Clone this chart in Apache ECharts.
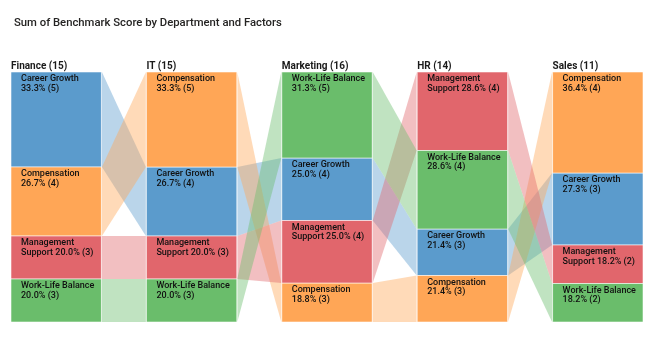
<!DOCTYPE html>
<html><head><meta charset="utf-8">
<script src="https://cdn.jsdelivr.net/npm/echarts/dist/echarts.min.js"></script>
<style>html,body{margin:0;padding:0;background:#fff}#c{width:650px;height:340px}</style>
</head><body><div id="c"></div>
<script>
// ---- data ----
const departments = ['Finance', 'IT', 'Marketing', 'HR', 'Sales'];
const factors = ['Career Growth', 'Compensation', 'Management Support', 'Work-Life Balance'];
// record counts (shown in labels) per department
const countCareerGrowth = [5, 4, 4, 3, 3];
const countCompensation = [4, 5, 3, 3, 4];
const countManagement   = [3, 3, 4, 4, 2];
const countWorkLife     = [3, 3, 5, 4, 2];
// relative benchmark score (ribbon height) per department, estimated
const scoreCareerGrowth = [95, 69, 62.5, 46.5, 72];
const scoreCompensation = [69, 95, 39, 46.5, 101];
const scoreManagement   = [43, 43, 62.5, 78.5, 38.5];
const scoreWorkLife     = [43, 43, 86, 78.5, 38.5];

const colors = ['#5B9BCC', '#FFA656', '#E1666C', '#6ABD6B'];
const counts = [countCareerGrowth, countCompensation, countManagement, countWorkLife];
const scores = [scoreCareerGrowth, scoreCompensation, scoreManagement, scoreWorkLife];
const BAR = 0.6677;

const layout = [];
const totals = [];
departments.forEach((d, di) => {
  const order = factors.map((f, fi) => fi).sort((a, b) =>
    counts[a][di] !== counts[b][di] ? counts[b][di] - counts[a][di] : a - b);
  const total = scores.reduce((s, arr) => s + arr[di], 0);
  totals[di] = counts.reduce((s, arr) => s + arr[di], 0);
  let acc = 0;
  layout[di] = [];
  order.forEach(fi => {
    const s = acc / total; acc += scores[fi][di];
    layout[di][fi] = { s: s, e: acc / total };
  });
});

const barData = [];
departments.forEach((d, di) => factors.forEach((f, fi) => {
  barData.push([di, layout[di][fi].s, layout[di][fi].e, fi, counts[fi][di], totals[di]]);
}));
const ribbonData = [];
for (let di = 0; di < departments.length - 1; di++) {
  factors.forEach((f, fi) => {
    ribbonData.push([di, layout[di][fi].s, layout[di][fi].e, layout[di + 1][fi].s, layout[di + 1][fi].e, fi]);
  });
}
const headerData = departments.map((d, di) => [di, 0, totals[di]]);

function labelText(fi, cnt, tot) {
  const pct = (cnt / tot * 100).toFixed(1) + '% (' + cnt + ')';
  const name = factors[fi];
  if (name === 'Management Support') return 'Management\nSupport ' + pct;
  return name + '\n' + pct;
}

const chart = echarts.init(document.getElementById('c'), null, { renderer: 'canvas' });
chart.setOption({
  animation: false,
  title: {
    text: 'Sum of Benchmark Score by Department and Factors',
    left: 9, top: 13,
    textStyle: { fontFamily: 'Roboto', fontSize: 11.3, fontWeight: 500, color: '#252423' }
  },
  grid: { left: 11, right: 7, top: 72, bottom: 18 },
  xAxis: { type: 'value', min: 0, max: 4 + BAR, show: false },
  yAxis: { type: 'value', min: 0, max: 1, inverse: true, show: false },
  series: [
    {
      type: 'custom', data: ribbonData, z: 1,
      renderItem: function (params, api) {
        const di = api.value(0), fi = api.value(5);
        const a = api.coord([di + BAR, api.value(1)]);
        const b = api.coord([di + 1, api.value(3)]);
        const c = api.coord([di + 1, api.value(4)]);
        const d = api.coord([di + BAR, api.value(2)]);
        return {
          type: 'polygon',
          shape: { points: [[a[0] + 0.5, a[1]], [b[0] - 0.5, b[1]], [c[0] - 0.5, c[1]], [d[0] + 0.5, d[1]]] },
          style: { fill: colors[fi], opacity: 0.42 }
        };
      }
    },
    {
      type: 'custom', data: barData, z: 2,
      renderItem: function (params, api) {
        const di = api.value(0), fi = api.value(3);
        const p0 = api.coord([di, api.value(1)]);
        const p1 = api.coord([di + BAR, api.value(2)]);
        return {
          type: 'group', children: [
            { type: 'rect', shape: { x: p0[0], y: p0[1], width: p1[0] - p0[0], height: p1[1] - p0[1] },
              style: { fill: colors[fi], stroke: 'rgba(255,255,255,0.55)', lineWidth: 1 } },
            { type: 'text', x: p0[0] + 10, y: p0[1] + 2,
              style: { text: labelText(fi, api.value(4), api.value(5)), fontFamily: 'Roboto', fontSize: 9,
                       fontWeight: 500, lineHeight: 9.6, fill: '#111', verticalAlign: 'top', align: 'left' } }
          ]
        };
      }
    },
    {
      type: 'custom', data: headerData, z: 3,
      renderItem: function (params, api) {
        const di = api.value(0);
        const p = api.coord([di, api.value(1)]);
        return { type: 'text', x: p[0], y: p[1] - 1,
          style: { text: departments[di] + ' (' + api.value(2) + ')', fontFamily: 'Roboto', fontSize: 10,
                   fontWeight: 'bold', fill: '#1a1a1a', verticalAlign: 'bottom', align: 'left' } };
      }
    }
  ]
});
</script>
</body></html>
